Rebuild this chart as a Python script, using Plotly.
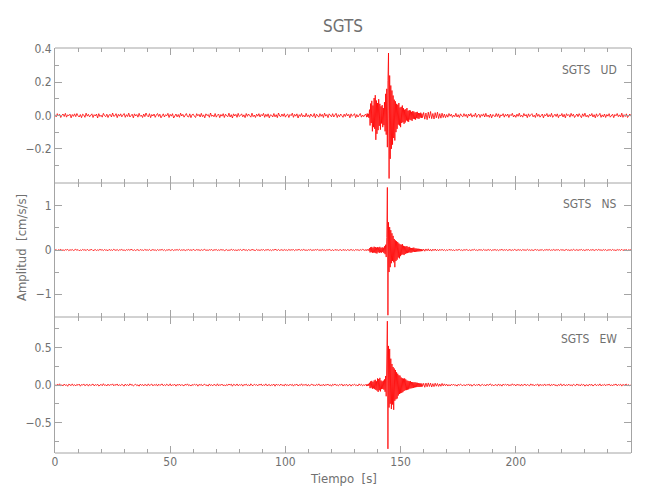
import numpy as np
import plotly.graph_objects as go
from plotly.subplots import make_subplots

# ---------------- data (values in 1e-3 cm/s/s) ----------------
t_pre = np.arange(0, 135, 0.5)          # 0 .. 134.5 s   (270 samples)
t_evt = np.arange(135, 160, 0.25)       # 135 .. 159.75 s (100 samples)
t_post = np.arange(160, 250.5, 0.5)     # 160 .. 250 s   (181 samples)

ud_pre = [5,-8,11,-3,7,-12,2,9,-6,13,-10,4,-1,8,-14,6,-5,10,
          -7,12,-2,-9,6,-13,8,3,-11,14,-4,7,-8,1,10,-12,5,-3,
          9,-15,11,-6,2,-10,13,-1,-7,8,-12,4,6,-9,15,-5,-2,11,
          -13,7,-4,10,-8,3,12,-11,5,-6,14,-9,1,8,-14,10,-3,6,
          -10,13,-5,2,-12,9,-7,15,-1,-8,11,-13,6,-3,9,-11,4,12,
          -6,8,-14,3,10,-9,5,-2,13,-12,7,-4,11,-15,2,9,-8,6,
          -11,14,-3,7,-10,1,12,-6,-9,10,-13,5,8,-4,-12,11,-2,7,
          -9,13,-7,4,-14,10,-1,6,-11,15,-5,3,-8,12,-10,2,9,-13,
          6,-4,11,-12,8,-2,-7,14,-9,5,-15,10,-3,7,-11,13,-6,1,
          10,-8,4,-13,12,-5,9,-1,-10,14,-7,3,-12,8,-4,11,-9,6,
          -2,13,-11,7,-6,10,-14,4,2,-9,12,-8,5,-13,15,-3,-7,9,
          -5,11,-10,3,8,-12,6,-1,14,-11,7,-4,10,-15,5,-6,12,-8,
          2,-9,13,-7,4,-11,9,-3,-6,12,-14,8,1,-10,11,-5,7,-12,
          14,-4,6,-13,10,-2,-8,11,-9,3,13,-12,5,-7,9,-1,-11,8,
          -6,12,-3,7,-14,10,-5,2,11,-13,6,-9,4,12,-10,3,-7,5]
ud_evt = [6,-10,12,-8,10,-14,
          35,-60,72,-45,88,-95,60,-70,
          105,-80,122,-146,90,-110,75,-88,
          98,-62,70,-85,55,-48,62,-70,
          45,-58,80,-95,130,-115,
          160,-190,210,375,
          -378,240,-260,180,-200,150,-175,120,
          -135,95,-150,85,-100,70,-80,65,
          -55,75,-60,48,-70,52,-45,60,
          -40,44,-50,35,-42,38,-30,45,
          -35,28,-38,32,-25,30,-28,22,
          -32,26,-20,24,-22,18,-25,20,
          -16,22,-18,15,-20,14,-12,17,
          -15,11,-13,10]
ud_post = [18,-22,15,-25,20,-16,24,-19,12,-21,17,-14,20,-18,11,-16,14,-12,
           9,-13,6,-10,12,-4,8,-11,3,-7,13,-9,5,-12,10,-2,-8,11,
           -5,7,-13,9,-3,12,-10,4,-6,14,-11,2,8,-12,6,-4,10,-9,
           13,-7,3,-11,9,-14,5,1,-8,12,-6,10,-13,4,-2,11,-10,7,
           -4,9,-12,6,-1,13,-9,3,-11,8,-5,14,-7,2,-10,12,-3,6,
           -13,10,-6,4,11,-8,2,-12,14,-5,7,-10,3,9,-14,6,-2,12,
           -9,5,-7,13,-11,1,8,-6,10,-13,4,-3,12,-9,7,-14,11,-1,
           6,-10,13,-4,8,-12,3,9,-7,11,-2,-13,10,-5,14,-8,2,-11,
           7,-3,12,-9,5,-14,10,-6,1,13,-11,4,-8,9,-12,6,-4,11,
           -10,3,8,-13,6,-2,12,-7,4,-9,14,-11,5,-6,10,-12,2,9,
           -5]

ns_pre = [-8,12,-15,6,-3,17,-10,4,-13,9,-1,14,-16,7,-5,11,-12,3,
          15,-6,9,-17,2,-11,13,-4,8,-14,16,-9,1,-7,12,-15,5,10,
          -12,4,-9,16,-3,7,-13,11,-6,2,-16,14,-8,5,-11,17,-2,-7,
          10,-14,6,-1,13,-10,3,-15,9,-5,12,-8,16,-3,-11,7,-13,4,
          8,-16,11,-4,2,-12,15,-7,5,-9,14,-13,1,10,-6,3,-15,12,
          -9,6,-2,14,-11,8,-17,4,-5,13,-10,2,9,-14,6,-3,11,-8,
          16,-12,5,-6,10,-15,3,-1,12,-9,7,-13,17,-4,-8,11,-2,6,
          -14,9,-7,3,15,-11,2,-10,8,-4,13,-16,6,-1,11,-12,5,-9,
          12,-3,7,-15,4,10,-13,1,-8,16,-6,9,-11,3,-14,8,-5,13,
          -10,2,14,-9,6,-16,11,-4,-7,12,-1,5,-13,15,-8,3,-12,9,
          -4,11,-14,7,-2,13,-10,5,-15,8,-6,16,-3,-9,12,-11,1,7,
          -13,10,-5,3,-12,14,-8,6,-1,11,-16,9,-4,2,13,-10,7,-6,
          15,-9,1,-11,8,-3,12,-14,5,-7,10,-2,16,-12,4,-8,11,-5,
          3,-13,9,-6,14,-1,-10,7,-15,12,-4,6,-11,2,8,-16,13,-7,
          5,-12,10,-3,-8,15,-9,4,-14,11,-2,7,-13,9,-6,14,-1,-10]
ns_evt = [8,-12,14,-6,10,-15,
          40,-55,62,-48,70,-65,50,-58,
          75,-60,68,-72,55,-80,64,-50,
          58,-66,72,-54,48,-62,60,-45,
          52,-70,85,-95,120,-160,
          280,1420,-1480,630,
          -500,520,-390,450,-300,380,-250,320,
          -280,250,-390,220,-250,200,-220,180,
          -170,150,-190,130,-140,120,-110,135,
          -100,95,-115,85,-90,80,-75,88,
          -70,65,-60,72,-55,50,-62,45,
          -52,48,-40,55,-45,38,-42,35,
          -38,30,-34,28,-32,25,-30,22,
          -26,20,-24,18]
ns_post = [20,-28,24,-18,26,-22,15,-25,19,-14,22,-17,12,-20,16,-11,18,-13,
           9,-15,6,-12,14,-3,8,-10,4,-16,11,-7,2,13,-9,5,-14,10,
           -6,12,-1,-11,7,-15,9,-4,16,-8,3,-13,10,-2,6,-12,14,-5,
           1,-9,13,-7,11,-16,4,-3,12,-10,8,-14,5,-1,15,-11,7,-6,
           10,-13,3,9,-12,6,-8,14,-2,-10,11,-5,7,-15,13,-4,2,-9,
           16,-7,5,-11,9,-14,1,12,-6,8,-13,4,-3,10,-16,6,-2,11,
           -8,14,-10,3,-5,13,-12,7,-1,9,-15,11,-4,6,-11,2,12,-7,
           4,-14,8,-9,15,-3,-6,10,-12,5,-1,13,-10,7,-16,9,-2,11,
           -11,6,-4,12,-13,2,9,-8,14,-5,3,-12,10,-7,11,-15,4,-1,
           8,-10,13,-6,1,-14,11,-3,7,-9,16,-12,5,-2,10,-13,6,-4,
           9]

ew_pre = [7,-14,10,-3,16,-9,2,-12,13,-6,4,-17,11,-1,-8,15,-10,5,
          -13,9,-4,12,-16,6,-2,14,-11,3,8,-15,10,-7,1,13,-12,6,
          -5,11,-14,2,9,-10,17,-6,3,-13,12,-8,5,-1,15,-11,7,-4,
          14,-12,4,-9,10,-2,-15,13,-7,6,-11,16,-3,8,-14,1,11,-9,
          3,-16,12,-5,7,-13,9,-1,-10,15,-8,2,13,-12,6,-4,10,-14,
          11,-6,1,14,-11,5,-9,12,-3,-7,16,-13,4,-2,9,-15,8,-5,
          13,-10,6,-1,-12,11,-4,15,-9,3,-14,7,-6,12,-2,10,-16,8,
          -3,9,-13,5,11,-8,2,-15,14,-7,4,-11,10,-1,-9,16,-12,6,
          -4,12,-10,3,-14,8,-6,13,-2,11,-16,9,1,-7,14,-11,5,-3,
          10,-15,7,-2,12,-9,4,-13,16,-5,-8,11,-3,6,-12,9,-1,13,
          -11,4,-7,15,-10,2,8,-14,6,-4,12,-16,10,-2,5,-9,13,-6,
          1,-12,14,-8,3,-10,11,-5,9,-15,7,-1,12,-13,4,-6,16,-9,
          5,-3,10,-14,8,-11,2,13,-7,4,-12,9,-5,15,-10,1,-8,11,
          -13,7,-2,12,-9,5,-16,10,-4,14,-6,3,-11,8,-1,13,-14,6,
          -7,11,-12,4,9,-15,6,-3,12,-8,1,-13,15,-5,10,-11,3,-6]
ew_evt = [10,-14,8,-12,15,-9,
          30,-42,48,-35,55,-50,40,-45,
          60,-55,70,-65,50,-75,88,-92,
          80,-70,95,-85,60,-55,48,-52,
          58,-62,75,-90,120,-150,
          200,850,-850,520,
          -300,480,-250,350,-320,280,-260,240,
          -330,220,-210,200,-190,170,-180,150,
          -140,130,-120,125,-110,100,-105,90,
          -95,85,-80,88,-70,75,-68,60,
          -62,55,-58,50,-48,52,-45,40,
          -42,38,-40,35,-33,36,-30,32,
          -28,30,-26,24,-27,22,-25,21,
          -23,20,-19,18]
ew_post = [22,-30,26,-24,28,-20,25,-27,18,-22,24,-16,20,-19,14,-17,21,-12,
           15,-10,11,-14,6,-13,9,-4,12,-8,3,-15,10,-6,13,-2,-9,7,
           -12,5,-3,14,-10,8,-16,2,9,-11,6,-5,13,-14,1,10,-7,4,
           -13,11,-6,2,15,-9,4,-12,7,-1,-10,14,-8,5,-15,12,-3,9,
           -5,13,-11,3,-7,16,-4,8,-13,10,-2,6,-14,11,-9,1,12,-10,
           7,-3,-11,15,-6,9,-12,4,-1,13,-16,10,-5,2,-8,14,-10,6,
           -2,11,-14,8,-4,12,-9,3,-15,7,-6,16,-11,1,9,-13,5,-7,
           12,-8,3,-12,10,-1,-9,14,-5,6,-13,11,-3,8,-16,4,2,-10,
           13,-6,9,-14,1,11,-10,5,-7,15,-12,3,-4,10,-11,7,-2,12,
           -9,4,-13,8,-1,14,-11,6,-3,10,-15,9,-6,2,12,-8,5,-12,
           3]

station = "SGTS"
components = ["UD", "NS", "EW"]
x_ticks = [0, 50, 100, 150, 200]

t = np.concatenate([t_pre, t_evt, t_post])
traces = {
    "UD": np.array(ud_pre + ud_evt + ud_post) / 1000.0,
    "NS": np.array(ns_pre + ns_evt + ns_post) / 1000.0,
    "EW": np.array(ew_pre + ew_evt + ew_post) / 1000.0,
}

# ---------------- figure ----------------
FONT = "Liberation Sans Narrow, DejaVu Sans Condensed, Arial Narrow, sans-serif"
GRAY = "#a4a4a4"
TXT = "#707070"

fig = make_subplots(rows=3, cols=1, shared_xaxes=True, vertical_spacing=0,
                    row_heights=[135, 134, 136])

for i, comp in enumerate(components):
    fig.add_trace(go.Scatter(x=t, y=traces[comp], mode="lines",
                             line=dict(color="#ff0000", width=0.8),
                             showlegend=False, hoverinfo="skip"),
                  row=i + 1, col=1)

tick_common = dict(ticks="inside", ticklen=7, tickcolor=GRAY, tickwidth=1,
                   showgrid=False, zeroline=False,
                   tickfont=dict(family=FONT, size=12, color=TXT))

for i in range(3):
    fig.update_xaxes(range=[0, 250], tickvals=x_ticks, showline=False, mirror="ticks",
                     minor=dict(dtick=10, tick0=0, ticklen=4, ticks="inside",
                                tickcolor=GRAY, showgrid=False),
                     **tick_common, row=i + 1, col=1)

y_specs = [
    dict(range=[-0.405, 0.405], tickvals=[-0.2, 0.0, 0.2, 0.4], tickformat=".1f", mdt=0.1),
    dict(range=[-1.52, 1.52], tickvals=[-1, 0, 1], tickformat="d", mdt=0.5),
    dict(range=[-0.905, 0.905], tickvals=[-0.5, 0.0, 0.5], tickformat=".1f", mdt=0.25),
]
for i, s in enumerate(y_specs):
    fig.update_yaxes(range=s["range"], tickvals=s["tickvals"], tickformat=s["tickformat"],
                     showline=True, linecolor=GRAY, linewidth=1, mirror="ticks",
                     minor=dict(dtick=s["mdt"], tick0=0, ticklen=4, ticks="inside",
                                tickcolor=GRAY, showgrid=False),
                     **tick_common, row=i + 1, col=1)

# single thin frame lines between / around the panels
yrefs = ["y domain", "y2 domain", "y3 domain"]
for i in range(3):
    fig.add_shape(type="line", xref="x domain", yref=yrefs[i], x0=0, x1=1, y0=0, y1=0,
                  line=dict(color=GRAY, width=1), layer="above")
fig.add_shape(type="line", xref="x domain", yref="y domain", x0=0, x1=1, y0=1, y1=1,
              line=dict(color=GRAY, width=1), layer="above")

# panel labels
for i, comp in enumerate(components):
    fig.add_annotation(text=f"{station}\u00a0\u00a0\u00a0{comp}", xref="x domain",
                       yref=yrefs[i], x=0.98, y=0.84, xanchor="right", yanchor="middle",
                       showarrow=False, font=dict(family=FONT, size=12, color=TXT))

fig.add_annotation(text="Tiempo\u00a0\u00a0[s]", xref="paper", yref="paper",
                   x=0.5, y=-0.062, xanchor="center", yanchor="middle",
                   showarrow=False, font=dict(family=FONT, size=13, color=TXT))
fig.add_annotation(text="Amplitud\u00a0\u00a0[cm/s/s]", xref="paper", yref="paper",
                   x=-0.059, y=0.506, xanchor="center", yanchor="middle", textangle=-90,
                   showarrow=False, font=dict(family=FONT, size=13, color=TXT))

fig.update_layout(
    width=650, height=500,
    margin=dict(l=47, r=27, t=40, b=55),
    paper_bgcolor="white", plot_bgcolor="white",
    title=dict(text=station, x=0.5, xref="paper", y=1 - 18 / 500, yref="container",
               xanchor="center", yanchor="middle",
               font=dict(family=FONT, size=17, color=TXT)),
)

fig.write_html("out.html")
